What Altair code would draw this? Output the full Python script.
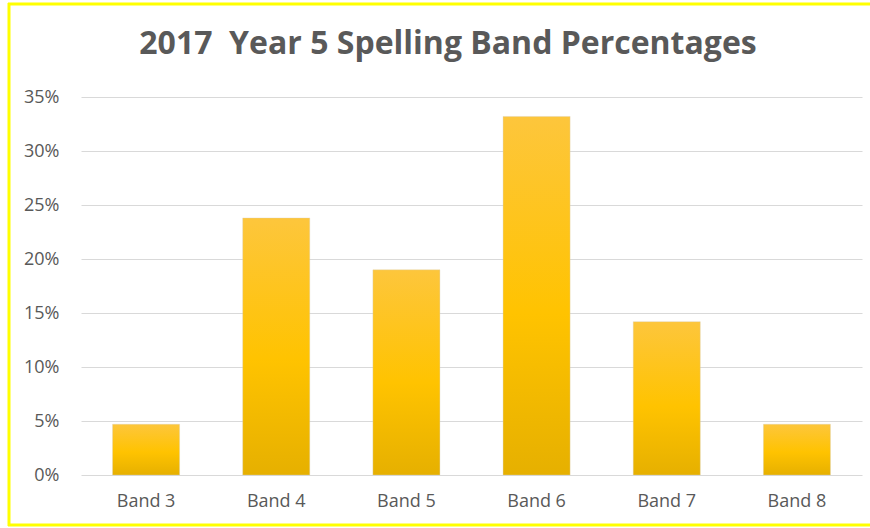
import altair as alt
import pandas as pd

bands = ["Band 3", "Band 4", "Band 5", "Band 6", "Band 7", "Band 8"]
percentages = [0.047, 0.238, 0.190, 0.332, 0.142, 0.047]
title_text = ["2017\u00a0 Year 5 Spelling Band Percentages"]

df = pd.DataFrame({"band": bands, "pct": percentages})

grad = alt.Gradient(
    gradient="linear",
    x1=0, x2=0, y1=0, y2=1,
    stops=[
        alt.GradientStop(color="#FDC63C", offset=0),
        alt.GradientStop(color="#FFC300", offset=0.55),
        alt.GradientStop(color="#E6B000", offset=1),
    ],
)

bars = alt.Chart(df).mark_bar(color=grad, stroke="#d8d0b8", strokeWidth=0.6, strokeOpacity=0.6).encode(
    x=alt.X("band:N", sort=bands, title=None,
            scale=alt.Scale(paddingInner=0.485, paddingOuter=0.2425),
            axis=alt.Axis(labelAngle=0, labelFontSize=18, labelColor="#595959",
                          labelFont="Open Sans", labelPadding=17, ticks=False,
                          domain=False, grid=False)),
    y=alt.Y("pct:Q", title=None,
            scale=alt.Scale(domain=[0, 0.35], nice=False),
            axis=alt.Axis(format=".0%", values=[0, 0.05, 0.1, 0.15, 0.2, 0.25, 0.3, 0.35],
                          labelFontSize=18, labelColor="#595959", labelFont="Open Sans",
                          labelPadding=22, ticks=False, domain=False,
                          gridColor="#D9D9D9", gridWidth=1)),
)

title = alt.Chart(pd.DataFrame({"t": title_text})).mark_text(
    font="Open Sans", fontSize=32, fontWeight="bold", color="#595959",
    align="center", baseline="alphabetic", clip=False
).encode(
    text="t:N",
    x=alt.value(367), y=alt.value(-43),
)

one = pd.DataFrame({"k": [0]})
border_top = alt.Chart(one).mark_rule(color="#FFFF00", strokeWidth=3, clip=False).encode(
    x=alt.value(-73), x2=alt.value(800), y=alt.value(-93),
)
border_bottom = alt.Chart(one).mark_rule(color="#FFFF00", strokeWidth=3, clip=False).encode(
    x=alt.value(-73), x2=alt.value(800), y=alt.value(428),
)
border_left = alt.Chart(one).mark_rule(color="#FFFF00", strokeWidth=3, clip=False).encode(
    x=alt.value(-72), y=alt.value(-94), y2=alt.value(429),
)

chart = alt.layer(bars, title, border_top, border_bottom, border_left).properties(
    width=781,
    height=378,
    autosize=alt.AutoSizeParams(type="none"),
    padding={"left": 81, "top": 97, "right": 8, "bottom": 53},
    background="white",
).configure_view(stroke=None)

chart.save("out.html", embed_options={"renderer": "svg", "actions": False})
